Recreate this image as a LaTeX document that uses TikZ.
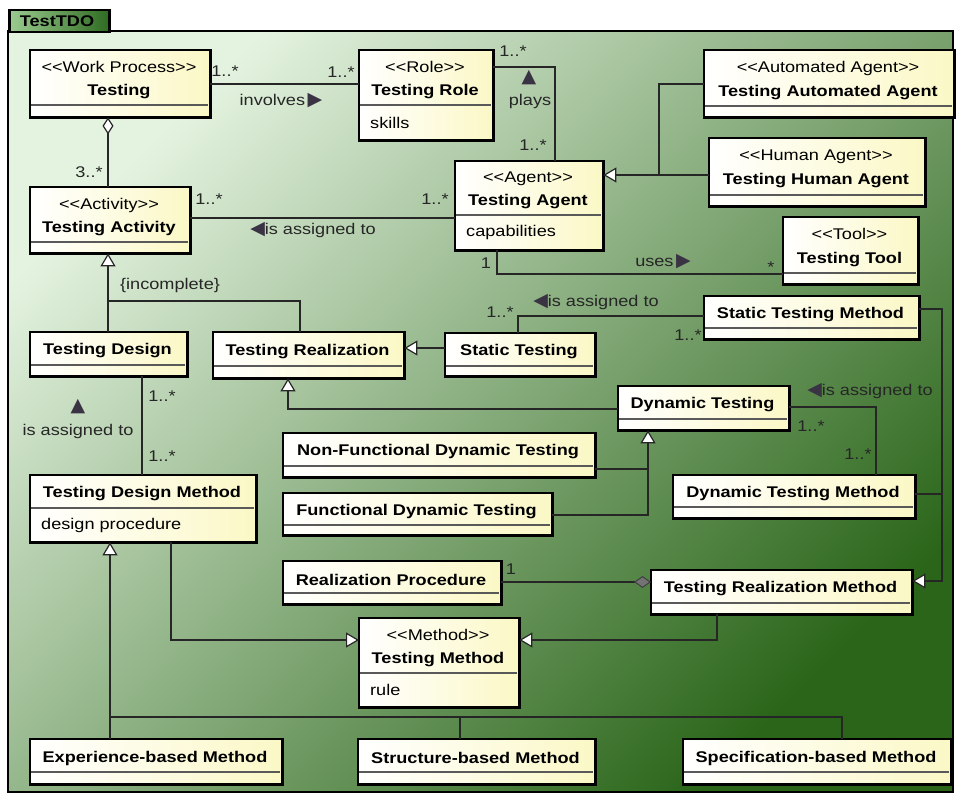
\documentclass[tikz,border=0pt]{standalone}
\usepackage{fontspec}
\setmainfont{Liberation Sans}[FakeStretch=1.17]
\newfontfamily\symf{DejaVu Sans}
\usetikzlibrary{arrows.meta}
\definecolor{bgA}{HTML}{E4F3E0}
\definecolor{bgB}{HTML}{7DAB6F}
\definecolor{bgC}{HTML}{2A6519}
\definecolor{tabA}{HTML}{9CCB90}
\definecolor{tabB}{HTML}{2F6B22}
\definecolor{boxR}{HTML}{FBF8C6}
\definecolor{lnc}{HTML}{262626}
\definecolor{tric}{HTML}{3A3344}
\newcommand{\stereo}[1]{<\kern0pt<#1>\kern0pt>}
\newcommand{\rtri}{{\symf\color{tric}\fontsize{19}{15}\selectfont ▶}}
\newcommand{\ltri}{{\symf\color{tric}\fontsize{19}{15}\selectfont ◀}}
\newcommand{\utri}{{\symf\color{tric}\fontsize{19}{15}\selectfont ▲}}
% id, x1, y1, x2, y2, ysep, title
\newcommand{\umlcls}[7]{%
  \node[classbox, minimum width={#4-#2}, minimum height={#5-#3}, anchor=north west] (#1) at (#2,#3) {};
  \draw[sepline] (#2,#6) -- (#4,#6);
  \node[titletxt] (#1-t) at ({(#2+#4)/2},{(#3+#6)/2+2.5}) {#7};
  \draw[line width=2.5pt] (#1.north west) rectangle (#1.south east);
}
% id, x1, ysep, y2, text
\newcommand{\umlattr}[5]{%
  \node[attrtxt, anchor=west] (#1-a) at ({#2+11},{(#3+#4)/2+1}) {#5};
}
\begin{document}
\begin{tikzpicture}[x=1pt,y=-1pt,
  classbox/.style={left color=white, right color=boxR, draw=none, inner sep=0pt, outer sep=1.2pt},
  sepline/.style={draw=black!65, line width=1.2pt},
  titletxt/.style={align=center, inner sep=0pt, font=\fontsize{15.5}{23.5}\selectfont},
  attrtxt/.style={inner sep=0pt, font=\fontsize{15.5}{18}\selectfont},
  lbl/.style={inner sep=0pt, font=\fontsize{15.5}{18}\selectfont, text=black!85},
  conn/.style={draw=lnc, line width=1.3pt},
  gen/.style={conn, -{Triangle[open, fill=white, length=13pt, width=15pt, line width=1.2pt]}},
  agg/.style={conn, {Diamond[open, fill=white, length=17pt, width=11pt, line width=1.2pt]}-},
  comp/.style={conn, -{Diamond[color=black!75, fill=black!55, length=17pt, width=12pt, line width=1pt]}}
]
\useasboundingbox (0,0) rectangle (956,794);
% package frame
\shade[top color=bgA, middle color=bgB, bottom color=bgC, shading angle=45] (8,31) rectangle (953,792);
\draw[line width=2.5pt] (8,31) rectangle (953,792);
\node[left color=tabA, right color=tabB, draw, line width=2.5pt, minimum width=100, minimum height=22, anchor=north west, inner sep=0pt] (pkg) at (8,9) {};
\node[font=\fontsize{15.5}{18}\selectfont\bfseries, inner sep=0pt] (pkg-t) at (57,21) {TestTDO};

% classes
\umlcls{testing}{30}{50}{208}{115}{105}{\stereo{Work Process}\\\textbf{Testing}}
\umlcls{role}{359}{50}{491}{138}{105}{\stereo{Role}\\\textbf{Testing Role}}
\umlattr{role}{359}{105}{138}{skills}
\umlcls{activity}{30}{187}{188}{251}{242}{\stereo{Activity}\\\textbf{Testing Activity}}
\umlcls{agent}{455}{161}{601}{248}{215}{\stereo{Agent}\\\textbf{Testing Agent}}
\umlattr{agent}{455}{215}{248}{capabilities}
\umlcls{auto}{704}{50}{952}{115}{106}{\stereo{Automated Agent}\\\textbf{Testing Automated Agent}}
\umlcls{human}{709}{138}{923}{204}{195}{\stereo{Human Agent}\\\textbf{Testing Human Agent}}
\umlcls{tool}{783}{217}{916}{282}{273}{\stereo{Tool}\\\textbf{Testing Tool}}
\umlcls{design}{30}{332}{185}{374}{365}{\textbf{Testing Design}}
\umlcls{real}{213}{332}{402}{376}{366}{\textbf{Testing Realization}}
\umlcls{static}{445}{333}{593}{374}{366}{\textbf{Static Testing}}
\umlcls{stm}{704}{296}{917}{337}{328}{\textbf{Static Testing Method}}
\umlcls{dyn}{618}{386}{787}{428}{419}{\textbf{Dynamic Testing}}
\umlcls{nfdt}{283}{433}{593}{475}{466}{\textbf{Non-Functional Dynamic Testing}}
\umlcls{fdt}{283}{493}{550}{533}{525}{\textbf{Functional Dynamic Testing}}
\umlcls{dtm}{673}{475}{913}{516}{507}{\textbf{Dynamic Testing Method}}
\umlcls{tdm}{30}{475}{254}{540}{508}{\textbf{Testing Design Method}}
\umlattr{tdm}{30}{508}{540}{design procedure}
\umlcls{rp}{283}{561}{499}{602}{593}{\textbf{Realization Procedure}}
\umlcls{trm}{651}{570}{910}{612}{603}{\textbf{Testing Realization Method}}
\umlcls{tm}{359}{618}{517}{705}{673}{\stereo{Method}\\\textbf{Testing Method}}
\umlattr{tm}{359}{673}{705}{rule}
\umlcls{exp}{30}{739}{280}{782}{772}{\textbf{Experience-based Method}}
\umlcls{struct}{358}{739}{593}{782}{772}{\textbf{Structure-based Method}}
\umlcls{spec}{683}{739}{949}{782}{772}{\textbf{Specification-based Method}}

% connectors
\draw[conn] (testing.east |- 0,84) -- (role.west |- 0,84);
\node[lbl] (l1) at (225,71) {1..*};
\node[lbl] (l2) at (341,72) {1..*};
\node[lbl] (l3) at (281,101) {involves\,\rtri};

\draw[conn] (role.east |- 0,67) -| (agent.north -| 555,0);
\node[lbl] (l4) at (513,51) {1..*};
\node[lbl] (l5) at (529,78) {\utri};
\node[lbl] (l6) at (530,101) {plays};
\node[lbl] (l7) at (533,145) {1..*};

\draw[gen] (human.west |- 0,175) -- (agent.east |- 0,175);
\draw[conn] (auto.west |- 0,84) -| (659,175);

\draw[agg] (testing.south -| 108,0) -- (activity.north -| 108,0);
\node[lbl] (l8) at (89,172) {3..*};

\draw[conn] (activity.east |- 0,218) -- (agent.west |- 0,218);
\node[lbl] (l9) at (209,199) {1..*};
\node[lbl] (l10) at (435,199) {1..*};
\node[lbl] (l11) at (313,230) {\ltri is assigned to};

\draw[conn] (agent.south -| 497,0) |- (tool.west |- 0,274);
\node[lbl] (l12) at (486,263) {1};
\node[lbl] (l13) at (663,262) {uses\,\rtri};
\node[lbl] (l14) at (771,267) {*};

\draw[gen] (design.north -| 108,0) -- (activity.south -| 108,0);
\draw[conn] (real.north -| 300,0) |- (108,301);
\node[lbl] (l15) at (170,285) {\{incomplete\}};

\draw[gen] (static.west |- 0,348) -- (real.east |- 0,348);

\draw[conn] (static.north -| 518,0) |- (stm.west |- 0,316);
\node[lbl] (l16) at (500,312) {1..*};
\node[lbl] (l17) at (596,302) {\ltri is assigned to};
\node[lbl] (l18) at (688,335) {1..*};

\draw[gen] (dyn.west |- 0,409) -| (real.south -| 288,0);
\draw[gen] (fdt.east |- 0,515) -| (dyn.south -| 648,0);
\draw[conn] (nfdt.east |- 0,469) -- (648,469);

\draw[conn] (dyn.east |- 0,407) -| (dtm.north -| 876,0);
\node[lbl] (l19) at (870,391) {\ltri is assigned to};
\node[lbl] (l20) at (811,426) {1..*};
\node[lbl] (l21) at (858,454) {1..*};

\draw[gen] (stm.east |- 0,309) -| (942,581) -- (trm.east |- 0,581);
\draw[conn] (dtm.east |- 0,494) -- (942,494);

\draw[conn] (design.south -| 142,0) -- (tdm.north -| 142,0);
\node[lbl] (l22) at (162,396) {1..*};
\node[lbl] (l23) at (162,456) {1..*};
\node[lbl] (l24) at (78,407) {\utri};
\node[lbl] (l25) at (78,431) {is assigned to};

\draw[comp] (rp.east |- 0,582) -- (trm.west |- 0,582);
\node[lbl] (l26) at (511,569) {1};

\draw[gen] (trm.south -| 717,0) |- (tm.east |- 0,640);
\draw[gen] (tdm.south -| 171,0) |- (tm.west |- 0,640);

\draw[gen] (exp.north -| 110,0) -- (tdm.south -| 110,0);
\draw[conn] (110,717) -| (spec.north -| 842,0);
\draw[conn] (460,717) -- (struct.north -| 460,0);
\end{tikzpicture}
\end{document}
